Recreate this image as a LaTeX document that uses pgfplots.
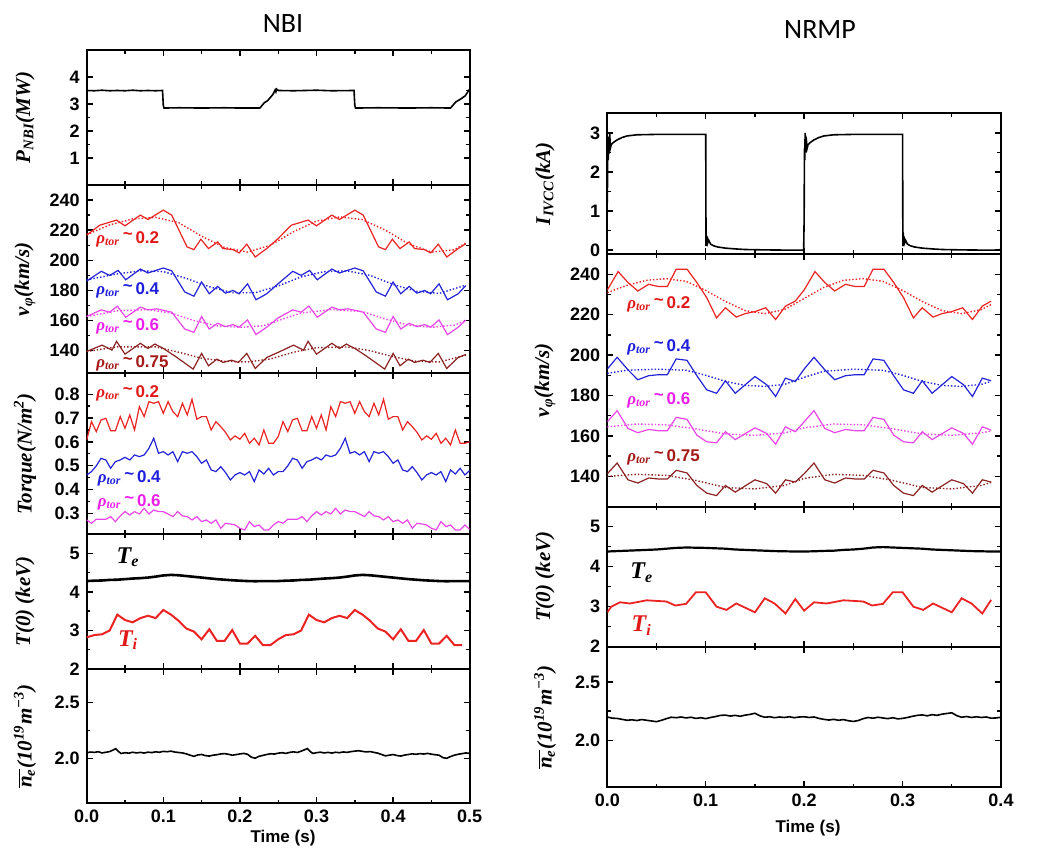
\documentclass[border=0pt]{standalone}
\usepackage{fontspec}
\setmainfont{Liberation Sans}
\newfontfamily\titlefont{Carlito}
\newfontfamily\labfont{Liberation Serif}
\usepackage{pgfplots}
\usepackage{pgfplotstable}
\pgfplotsset{compat=1.18}

\definecolor{cred}{RGB}{235,35,35}
\definecolor{cblue}{RGB}{35,35,215}
\definecolor{cmag}{RGB}{232,70,232}
\definecolor{cbrown}{RGB}{140,35,35}
\definecolor{tred}{RGB}{225,25,25}
\definecolor{tblue}{RGB}{30,30,220}
\definecolor{tmag}{RGB}{235,30,235}
\definecolor{tbrown}{RGB}{165,25,25}

\newcommand{\lab}[1]{{\labfont\bfseries\itshape #1}}
\newcommand{\rholab}[1]{\lab{ρ\textsubscript{tor}}\,\textbf{\raisebox{0.35ex}{\textasciitilde}\,#1}}
\tikzset{rholabel/.style={anchor=west, font=\fontsize{8.5}{10}\selectfont, inner sep=0pt}}

\pgfplotstableread{
t r b m
0 0.608 0.461 0.272
0.00625 0.685 0.475 0.258
0.0125 0.643 0.499 0.275
0.01875 0.692 0.531 0.275
0.025 0.699 0.524 0.275
0.03125 0.647 0.489 0.286
0.0375 0.647 0.517 0.265
0.04375 0.706 0.524 0.289
0.05 0.657 0.535 0.307
0.05625 0.713 0.524 0.293
0.0625 0.650 0.545 0.307
0.06875 0.748 0.538 0.297
0.075 0.706 0.545 0.321
0.08125 0.769 0.573 0.297
0.0875 0.762 0.615 0.314
0.09375 0.769 0.552 0.307
0.1 0.720 0.559 0.307
0.10625 0.769 0.545 0.297
0.1125 0.727 0.559 0.286
0.11875 0.706 0.517 0.307
0.125 0.762 0.559 0.289
0.13125 0.713 0.552 0.286
0.1375 0.779 0.559 0.272
0.14375 0.695 0.538 0.286
0.15 0.706 0.510 0.265
0.15625 0.706 0.524 0.272
0.1625 0.650 0.482 0.258
0.16875 0.685 0.475 0.272
0.175 0.664 0.496 0.237
0.18125 0.640 0.471 0.258
0.1875 0.608 0.440 0.255
0.19375 0.625 0.461 0.251
0.2 0.611 0.471 0.237
0.20625 0.636 0.461 0.230
0.2125 0.594 0.475 0.265
0.21875 0.615 0.433 0.244
0.225 0.587 0.482 0.251
0.23125 0.650 0.465 0.230
0.2375 0.594 0.489 0.230
0.24375 0.594 0.461 0.251
0.25 0.622 0.475 0.265
0.25625 0.685 0.475 0.258
0.2625 0.643 0.499 0.275
0.26875 0.692 0.531 0.275
0.275 0.699 0.524 0.275
0.28125 0.647 0.489 0.286
0.2875 0.647 0.517 0.265
0.29375 0.706 0.524 0.289
0.3 0.657 0.535 0.307
0.30625 0.713 0.524 0.293
0.3125 0.650 0.545 0.307
0.31875 0.748 0.538 0.297
0.325 0.706 0.545 0.321
0.33125 0.769 0.573 0.297
0.3375 0.762 0.615 0.314
0.34375 0.769 0.552 0.307
0.35 0.720 0.559 0.307
0.35625 0.769 0.545 0.297
0.3625 0.727 0.559 0.286
0.36875 0.706 0.517 0.307
0.375 0.762 0.559 0.289
0.38125 0.713 0.552 0.286
0.3875 0.779 0.559 0.272
0.39375 0.695 0.538 0.286
0.4 0.706 0.510 0.265
0.40625 0.706 0.524 0.272
0.4125 0.650 0.482 0.258
0.41875 0.685 0.475 0.272
0.425 0.664 0.496 0.237
0.43125 0.640 0.471 0.258
0.4375 0.608 0.440 0.255
0.44375 0.625 0.461 0.251
0.45 0.611 0.471 0.237
0.45625 0.636 0.461 0.230
0.4625 0.594 0.475 0.265
0.46875 0.615 0.433 0.244
0.475 0.587 0.482 0.251
0.48125 0.650 0.465 0.230
0.4875 0.594 0.489 0.230
0.49375 0.594 0.461 0.251
0.5 0.600 0.480 0.232
}\torque

\pgfplotsset{
  mypanel/.style={
    scale only axis, anchor=north west,
    axis line style={line width=0.9pt},
    tick style={black, line width=0.7pt},
    major tick length=3pt, minor tick length=1.8pt,
    tick align=inside,
    tick label style={font=\bfseries\fontsize{9}{10}\selectfont},
    /pgf/number format/assume math mode=true,
    ylabel style={font=\fontsize{10.5}{12}\selectfont, anchor=center},
    minor x tick num=1, minor y tick num=1,
  },
  myleft/.style={mypanel, width=191.5pt, xmin=0, xmax=0.5, xtick={0,0.1,0.2,0.3,0.4,0.5}, xticklabels={},
    ylabel style={at={(axis description cs:-0.161,0.5)}}},
  myright/.style={mypanel, width=196.85pt, xmin=0, xmax=0.4, xtick={0,0.1,0.2,0.3,0.4}, xticklabels={},
    ylabel style={at={(axis description cs:-0.158,0.5)}}},
  mybottom/.style={xticklabel={\pgfmathprintnumber[fixed,fixed zerofill,precision=1]{\tick}}},
  dataline/.style={line width=0.6pt},
  fitline/.style={densely dotted, line width=0.7pt},
}

\begin{document}
\begin{tikzpicture}
\path[use as bounding box] (0,0) rectangle (524.5pt,-424.5pt);

\node[font=\titlefont\fontsize{14}{16}\selectfont] at (141.5pt,-12pt) {NBI};
\node[font=\titlefont\fontsize{14}{16}\selectfont] at (410pt,-15pt) {NRMP};

% ---------------- LEFT COLUMN ----------------
\begin{axis}[myleft, at={(43.35pt,-25pt)}, height=67.5pt, ymin=0, ymax=5, ytick={1,2,3,4},
  ylabel={\lab{P\textsubscript{NBI}(MW)}}]
\addplot[black, line width=0.8pt] coordinates {
(0,3.5)(0.01,3.49)(0.02,3.51)(0.03,3.49)(0.04,3.5)(0.05,3.49)(0.06,3.51)(0.07,3.49)(0.08,3.5)(0.09,3.49)(0.099,3.5)
(0.1,2.95)(0.101,2.85)(0.12,2.86)(0.15,2.85)(0.18,2.86)(0.2,2.85)(0.226,2.85)(0.229,2.95)(0.232,3.05)(0.236,3.12)
(0.24,3.25)(0.243,3.35)(0.246,3.52)(0.247,3.45)(0.248,3.55)(0.25,3.5)(0.27,3.49)(0.3,3.51)(0.32,3.49)(0.349,3.5)
(0.35,2.95)(0.351,2.85)(0.38,2.86)(0.42,2.85)(0.45,2.86)(0.475,2.85)(0.478,2.95)(0.482,3.08)(0.488,3.18)(0.494,3.3)(0.5,3.55)};
\end{axis}

\begin{axis}[myleft, at={(43.35pt,-92.5pt)}, height=94.15pt, ymin=125, ymax=250, ytick={140,160,180,200,220,240},
  ylabel={\lab{v\textsubscript{φ}(km/s)}}]
\addplot[cred, dataline] coordinates {
(0,216.7)(0.017,223.3)(0.039,226.7)(0.05,222.9)(0.07,230)(0.08,227.1)(0.1,233.3)(0.111,230)(0.131,208.9)(0.14,207.1)
(0.149,214)(0.159,207.8)(0.171,212.2)(0.178,207.8)(0.191,207.1)(0.199,204.9)(0.209,210.7)(0.22,202.2)(0.235,207.8)
(0.25,214.5)(0.267,223.3)(0.289,226.7)(0.30,222.9)(0.32,230)(0.33,227.1)(0.35,233.3)(0.361,230)(0.381,208.9)(0.39,207.1)
(0.399,214)(0.409,207.8)(0.421,212.2)(0.428,207.8)(0.441,207.1)(0.449,204.9)(0.459,210.7)(0.47,202.2)(0.485,207.8)(0.495,211)};
\addplot[cred, fitline] coordinates {
(0,217)(0.03,223.5)(0.06,227.5)(0.09,228.5)(0.12,225)(0.15,216)(0.18,208.5)(0.21,205.5)(0.24,210)(0.27,219)
(0.30,226)(0.33,228.8)(0.36,227)(0.39,220)(0.42,211)(0.45,205.5)(0.48,207)(0.495,211.5)};
\addplot[cblue, dataline] coordinates {
(0,186.2)(0.019,192.7)(0.03,190)(0.041,193.3)(0.051,187.1)(0.07,194.2)(0.08,191.6)(0.1,194.9)(0.111,193)(0.128,179)
(0.14,176.2)(0.15,185.6)(0.16,177.8)(0.171,182.7)(0.181,178.2)(0.191,180)(0.199,177.8)(0.21,184.4)(0.221,173.8)(0.235,177.8)
(0.25,184.5)(0.269,192.7)(0.28,190)(0.291,193.3)(0.301,187.1)(0.32,194.2)(0.33,191.6)(0.35,194.9)(0.361,193)(0.378,179)
(0.39,176.2)(0.40,185.6)(0.41,177.8)(0.421,182.7)(0.431,178.2)(0.441,180)(0.449,177.8)(0.46,184.4)(0.471,173.8)(0.485,177.8)(0.495,183.3)};
\addplot[cblue, fitline] coordinates {
(0,187)(0.04,191)(0.07,193)(0.1,192.5)(0.13,188)(0.16,182.5)(0.19,178.5)(0.22,178.5)(0.25,183)(0.28,189)
(0.31,192.5)(0.34,193)(0.37,190)(0.40,184)(0.43,179.5)(0.46,178)(0.495,183.5)};
\addplot[cmag, dataline] coordinates {
(0,162.7)(0.019,167.1)(0.03,165.6)(0.04,169.6)(0.051,162.2)(0.07,168.9)(0.08,167.1)(0.091,167.8)(0.111,165.6)(0.128,154.4)
(0.14,152.2)(0.15,162.7)(0.16,154.4)(0.171,158.2)(0.181,156)(0.191,157.3)(0.199,155.6)(0.21,160.4)(0.221,150.7)(0.235,155.6)
(0.25,161.8)(0.269,167.1)(0.28,165.6)(0.29,169.6)(0.301,162.2)(0.32,168.9)(0.33,167.1)(0.341,167.8)(0.361,165.6)(0.378,154.4)
(0.39,152.2)(0.40,162.7)(0.41,154.4)(0.421,158.2)(0.431,156)(0.441,157.3)(0.449,155.6)(0.46,160.4)(0.471,150.7)(0.485,155.6)(0.495,160.4)};
\addplot[cmag, fitline] coordinates {
(0,162.7)(0.04,166.5)(0.08,167.3)(0.11,165)(0.14,160)(0.17,156.5)(0.2,155.5)(0.23,156.5)(0.25,160)(0.28,165)
(0.32,167.3)(0.36,166)(0.39,161)(0.42,157)(0.45,155.5)(0.48,157)(0.495,160)};
\addplot[cbrown, dataline] coordinates {
(0,139.5)(0.02,143.7)(0.033,140.4)(0.039,146.2)(0.05,137.7)(0.07,144.9)(0.08,141.5)(0.089,144.4)(0.1,141.5)(0.115,136.5)
(0.139,127.8)(0.15,138.2)(0.159,130)(0.17,134.4)(0.178,132.2)(0.189,133.7)(0.198,132.2)(0.209,138.2)(0.22,128.2)(0.235,135.5)
(0.25,138.9)(0.27,143.7)(0.283,140.4)(0.289,146.2)(0.30,137.7)(0.32,144.9)(0.33,141.5)(0.339,144.4)(0.35,141.5)(0.365,136.5)
(0.389,127.8)(0.40,138.2)(0.409,130)(0.42,134.4)(0.428,132.2)(0.439,133.7)(0.448,132.2)(0.459,138.2)(0.47,128.2)(0.485,135.5)(0.495,137.5)};
\addplot[cbrown, fitline] coordinates {
(0,139.5)(0.04,142.5)(0.09,142.5)(0.12,139)(0.15,135)(0.18,133)(0.21,132.5)(0.24,134.5)(0.27,139)(0.3,142)
(0.34,142.5)(0.37,140)(0.4,136)(0.43,133)(0.46,132.5)(0.495,137)};
\node[rholabel, text=tred] at (axis cs:0.012,214.2) {\rholab{0.2}};
\node[rholabel, text=tblue] at (axis cs:0.012,180.2) {\rholab{0.4}};
\node[rholabel, text=tmag] at (axis cs:0.012,156.2) {\rholab{0.6}};
\node[rholabel, text=tbrown] at (axis cs:0.012,131.5) {\rholab{0.75}};
\end{axis}

\begin{axis}[myleft, at={(43.35pt,-186.65pt)}, height=80.35pt, ymin=0.213, ymax=0.888, ytick={0.3,0.4,0.5,0.6,0.7,0.8},
  ylabel={\lab{Torque(N/m\textsuperscript{2})}}]
\addplot[cred, dataline] table[x=t, y=r] {\torque};
\addplot[cblue, dataline] table[x=t, y=b] {\torque};
\addplot[cmag, dataline] table[x=t, y=m] {\torque};
\node[rholabel, text=tred] at (axis cs:0.012,0.803) {\rholab{0.2}};
\node[rholabel, text=tblue] at (axis cs:0.014,0.446) {\rholab{0.4}};
\node[rholabel, text=tmag] at (axis cs:0.014,0.345) {\rholab{0.6}};
\end{axis}

\begin{axis}[myleft, at={(43.35pt,-267pt)}, height=67.5pt, ymin=2, ymax=5.5, ytick={2,3,4,5},
  ylabel={\lab{T(0) (keV)}}]
\addplot[black, line width=1.3pt] coordinates {
(0,4.28)(0.01,4.29)(0.02,4.295)(0.03,4.31)(0.04,4.315)(0.05,4.33)(0.06,4.345)(0.07,4.355)(0.08,4.37)(0.09,4.395)
(0.1,4.425)(0.11,4.44)(0.12,4.43)(0.13,4.41)(0.14,4.39)(0.15,4.37)(0.16,4.35)(0.17,4.33)(0.18,4.315)(0.19,4.3)
(0.2,4.29)(0.21,4.28)(0.22,4.275)(0.23,4.28)(0.24,4.28)(0.25,4.28)(0.26,4.29)(0.27,4.295)(0.28,4.31)(0.29,4.315)
(0.3,4.33)(0.31,4.345)(0.32,4.355)(0.33,4.37)(0.34,4.395)(0.35,4.425)(0.36,4.44)(0.37,4.43)(0.38,4.41)(0.39,4.39)
(0.4,4.37)(0.41,4.35)(0.42,4.33)(0.43,4.315)(0.44,4.3)(0.45,4.29)(0.46,4.28)(0.47,4.275)(0.48,4.28)(0.49,4.28)(0.5,4.28)};
\addplot[cred, line width=1pt] coordinates {
(0,2.82)(0.01,2.88)(0.02,2.90)(0.03,3.0)(0.04,3.41)(0.05,3.27)(0.06,3.21)(0.07,3.32)(0.08,3.38)(0.09,3.32)
(0.10,3.53)(0.11,3.41)(0.12,3.25)(0.13,3.05)(0.14,2.97)(0.15,2.77)(0.16,3.03)(0.17,2.73)(0.18,2.73)(0.19,3.01)
(0.20,2.66)(0.21,2.66)(0.22,2.86)(0.23,2.62)(0.24,2.62)(0.25,2.77)(0.26,2.88)(0.27,2.90)(0.28,3.0)(0.29,3.41)
(0.30,3.27)(0.31,3.21)(0.32,3.32)(0.33,3.38)(0.34,3.32)(0.35,3.53)(0.36,3.41)(0.37,3.25)(0.38,3.05)(0.39,2.97)
(0.40,2.77)(0.41,3.03)(0.42,2.73)(0.43,2.73)(0.44,3.01)(0.45,2.66)(0.46,2.66)(0.47,2.86)(0.48,2.62)(0.49,2.62)};
\node[text=black, font=\fontsize{12}{13}\selectfont] at (axis cs:0.054,4.9) {\lab{T\textsubscript{e}}};
\node[text=tred, font=\fontsize{12}{13}\selectfont] at (axis cs:0.054,2.75) {\lab{T\textsubscript{i}}};
\end{axis}

\begin{axis}[myleft, mybottom, at={(43.35pt,-334.5pt)}, height=67.15pt, ymin=1.6, ymax=2.8, ytick={2.0,2.5},
  yticklabel={\pgfmathprintnumber[fixed,fixed zerofill,precision=1]{\tick}},
  ylabel={$\overline{\hbox{\lab{n\textsubscript{e}}}}$\lab{(10\textsuperscript{19}m\textsuperscript{−3})}}]
\addplot[black, line width=0.8pt] coordinates {
(0.000,2.052)(0.005,2.058)(0.010,2.055)(0.015,2.061)(0.020,2.050)(0.025,2.056)(0.030,2.062)(0.035,2.078)(0.038,2.088)(0.042,2.060)
(0.045,2.045)(0.050,2.052)(0.055,2.048)(0.060,2.056)(0.065,2.050)(0.070,2.055)(0.075,2.049)(0.080,2.057)(0.085,2.053)(0.090,2.060)
(0.095,2.056)(0.100,2.064)(0.105,2.061)(0.110,2.066)(0.115,2.058)(0.120,2.054)(0.125,2.050)(0.130,2.042)(0.135,2.030)(0.140,2.020)
(0.145,2.032)(0.150,2.036)(0.155,2.026)(0.160,2.022)(0.165,2.030)(0.170,2.034)(0.175,2.041)(0.180,2.044)(0.185,2.038)(0.190,2.030)
(0.195,2.035)(0.200,2.041)(0.205,2.046)(0.210,2.038)(0.215,2.012)(0.220,2.003)(0.225,2.020)(0.230,2.028)(0.235,2.036)(0.240,2.043)
(0.245,2.040)(0.250,2.048)(0.255,2.052)(0.260,2.046)(0.265,2.055)(0.270,2.060)(0.275,2.054)(0.280,2.066)(0.285,2.080)(0.288,2.089)
(0.292,2.062)(0.295,2.046)(0.300,2.052)(0.305,2.057)(0.310,2.050)(0.315,2.055)(0.320,2.049)(0.325,2.056)(0.330,2.052)(0.335,2.059)
(0.340,2.055)(0.345,2.062)(0.350,2.066)(0.355,2.070)(0.360,2.064)(0.365,2.059)(0.370,2.062)(0.375,2.055)(0.380,2.048)(0.385,2.036)
(0.390,2.024)(0.395,2.030)(0.400,2.036)(0.405,2.027)(0.410,2.022)(0.415,2.031)(0.420,2.036)(0.425,2.042)(0.430,2.038)(0.435,2.044)
(0.440,2.040)(0.445,2.046)(0.450,2.039)(0.455,2.034)(0.460,2.030)(0.465,2.008)(0.470,2.002)(0.475,2.018)(0.480,2.030)(0.485,2.038)
(0.490,2.044)(0.495,2.050)(0.500,2.046)};
\end{axis}
\node[font=\bfseries\fontsize{8.5}{10}\selectfont] at (141.5pt,-419pt) {Time (s)};

% ---------------- RIGHT COLUMN ----------------
\begin{axis}[myright, at={(303.65pt,-56.65pt)}, height=70.35pt, ymin=-0.1, ymax=3.5, ytick={0,1,2,3},
  ylabel={\lab{I\textsubscript{IVCC}(kA)}}]
\addplot[black, line width=0.8pt] coordinates {
(0,1.2)(0.0005,2.6)(0.001,2.3)(0.0015,2.9)(0.002,2.5)(0.0025,3.0)(0.003,2.6)(0.004,2.7)(0.006,2.75)(0.01,2.82)
(0.015,2.88)(0.02,2.92)(0.03,2.95)(0.05,2.96)(0.0995,2.96)(0.1,2.96)(0.1003,0.1)(0.1006,0.38)(0.101,0.2)(0.1015,0.35)
(0.102,0.18)(0.103,0.25)(0.105,0.15)(0.108,0.11)(0.112,0.08)(0.12,0.05)(0.13,0.03)(0.14,0.015)(0.16,0.005)(0.18,0.0)
(0.1995,0.0)(0.2,0.8)(0.2003,2.6)(0.2006,2.3)(0.201,3.0)(0.2015,2.5)(0.202,2.9)(0.203,2.6)(0.204,2.7)(0.206,2.75)
(0.21,2.82)(0.215,2.88)(0.22,2.92)(0.23,2.95)(0.25,2.96)(0.2995,2.96)(0.3,2.96)(0.3003,0.1)(0.3006,0.45)(0.301,0.2)
(0.3015,0.35)(0.302,0.18)(0.303,0.25)(0.305,0.15)(0.308,0.11)(0.312,0.08)(0.32,0.05)(0.33,0.03)(0.34,0.015)(0.36,0.005)
(0.38,0.0)(0.399,0.0)(0.4,0.05)};
\end{axis}

\begin{axis}[myright, at={(303.65pt,-127pt)}, height=126.35pt, ymin=125, ymax=250, ytick={140,160,180,200,220,240},
  ylabel={\lab{v\textsubscript{φ}(km/s)}}]
\addplot[cred, dataline] coordinates {
(0,232.2)(0.011,241.3)(0.021,235.9)(0.031,231.7)(0.042,235)(0.052,233.9)(0.061,233.9)(0.07,242.5)(0.081,242.5)(0.091,235.9)
(0.101,228.4)(0.111,218.4)(0.12,223.4)(0.131,218.8)(0.14,220.5)(0.15,221.5)(0.161,223.4)(0.171,217.6)(0.181,224.2)(0.191,226.7)
(0.2,232.2)(0.211,241.3)(0.221,235.9)(0.231,231.7)(0.242,235)(0.252,233.9)(0.261,233.9)(0.27,242.5)(0.281,242.5)(0.291,235.9)
(0.301,228.4)(0.311,218.4)(0.32,223.4)(0.331,218.8)(0.34,220.5)(0.35,221.5)(0.361,223.4)(0.371,217.6)(0.381,224.2)(0.39,226.7)};
\addplot[cred, fitline] coordinates {
(0,230.9)(0.02,234.5)(0.04,237)(0.06,237.8)(0.08,236.5)(0.1,232)(0.12,226.5)(0.14,222)(0.16,220.5)(0.18,222.5)
(0.2,228)(0.22,233.5)(0.24,237)(0.26,237.8)(0.28,236.5)(0.3,232)(0.32,226.5)(0.34,222)(0.36,220.5)(0.38,222.5)(0.39,225)};
\addplot[cblue, dataline] coordinates {
(0,193.1)(0.01,198.9)(0.021,192.7)(0.031,187.8)(0.042,189.8)(0.052,190.3)(0.061,190.3)(0.07,198.1)(0.081,197.4)(0.091,189.8)
(0.101,182.8)(0.111,181.1)(0.12,187.3)(0.13,181.1)(0.15,189.4)(0.162,185.3)(0.171,179.5)(0.181,188.6)(0.191,186.9)
(0.2,193.1)(0.21,198.9)(0.221,192.7)(0.231,187.8)(0.242,189.8)(0.252,190.3)(0.261,190.3)(0.27,198.1)(0.281,197.4)(0.291,189.8)
(0.301,182.8)(0.311,181.1)(0.32,187.3)(0.33,181.1)(0.35,189.4)(0.362,185.3)(0.371,179.5)(0.381,188.6)(0.39,187.3)};
\addplot[cblue, fitline] coordinates {
(0,191)(0.02,192.5)(0.05,193)(0.08,192.5)(0.1,190)(0.12,187)(0.14,185)(0.16,184.5)(0.18,185.5)(0.2,189)
(0.22,192)(0.25,193)(0.28,192.5)(0.3,190)(0.32,187)(0.34,185)(0.36,184.5)(0.38,185.5)(0.39,187)};
\addplot[cmag, dataline] coordinates {
(0,167.0)(0.01,172.5)(0.021,163.7)(0.031,161.6)(0.042,163.2)(0.052,162.6)(0.061,162.6)(0.07,169.2)(0.081,168.2)(0.091,160.4)
(0.101,157.1)(0.111,156.6)(0.12,162.1)(0.13,158.2)(0.15,164.0)(0.162,161.2)(0.171,155.9)(0.181,164.5)(0.191,162.1)
(0.2,167.0)(0.21,172.5)(0.221,163.7)(0.231,161.6)(0.242,163.2)(0.252,162.6)(0.261,162.6)(0.27,169.2)(0.281,168.2)(0.291,160.4)
(0.301,157.1)(0.311,156.6)(0.32,162.1)(0.33,158.2)(0.35,164.0)(0.362,161.2)(0.371,155.9)(0.381,164.5)(0.39,162.9)};
\addplot[cmag, fitline] coordinates {
(0,164.5)(0.03,165.9)(0.06,165.5)(0.09,163.5)(0.12,161)(0.15,160.3)(0.18,161.5)(0.2,164)(0.23,165.9)(0.26,165.5)
(0.29,163.5)(0.32,161)(0.35,160.3)(0.38,161.5)(0.39,162.5)};
\addplot[cbrown, dataline] coordinates {
(0,141.3)(0.01,146.6)(0.021,138.3)(0.031,136.7)(0.042,139.2)(0.052,138.7)(0.061,138.7)(0.07,143.0)(0.081,141.7)(0.091,135.5)
(0.101,131.7)(0.111,130.5)(0.12,135.5)(0.13,132.2)(0.15,138.3)(0.162,136.4)(0.171,131.7)(0.181,138.3)(0.191,137.2)
(0.2,141.3)(0.21,146.6)(0.221,138.3)(0.231,136.7)(0.242,139.2)(0.252,138.7)(0.261,138.7)(0.27,143.0)(0.281,141.7)(0.291,135.5)
(0.301,131.7)(0.311,130.5)(0.32,135.5)(0.33,132.2)(0.35,138.3)(0.362,136.4)(0.371,131.7)(0.381,138.3)(0.39,137.2)};
\addplot[cbrown, fitline] coordinates {
(0,140)(0.03,141)(0.06,140.5)(0.09,138)(0.12,134.5)(0.15,133.8)(0.18,135.5)(0.2,139)(0.23,141)(0.26,140.5)
(0.29,138)(0.32,134.5)(0.35,133.8)(0.38,135.5)(0.39,137)};
\node[rholabel, text=tred] at (axis cs:0.02,225) {\rholab{0.2}};
\node[rholabel, text=tblue] at (axis cs:0.02,203.7) {\rholab{0.4}};
\node[rholabel, text=tmag] at (axis cs:0.02,177.8) {\rholab{0.6}};
\node[rholabel, text=tbrown] at (axis cs:0.02,149.5) {\rholab{0.75}};
\end{axis}

\begin{axis}[myright, at={(303.65pt,-253.35pt)}, height=70pt, ymin=2, ymax=5.5, ytick={2,3,4,5},
  ylabel={\lab{T(0) (keV)}}]
\addplot[black, line width=1.1pt] coordinates {
(0,4.38)(0.01,4.39)(0.02,4.40)(0.03,4.41)(0.04,4.42)(0.05,4.43)(0.06,4.45)(0.07,4.47)(0.08,4.48)(0.09,4.475)
(0.1,4.47)(0.11,4.46)(0.12,4.45)(0.13,4.43)(0.14,4.42)(0.15,4.41)(0.16,4.40)(0.17,4.39)(0.18,4.385)(0.19,4.38)
(0.2,4.38)(0.21,4.385)(0.22,4.395)(0.23,4.40)(0.24,4.42)(0.25,4.43)(0.26,4.45)(0.27,4.48)(0.28,4.49)(0.29,4.48)
(0.3,4.47)(0.31,4.46)(0.32,4.45)(0.33,4.43)(0.34,4.42)(0.35,4.41)(0.36,4.40)(0.37,4.39)(0.38,4.385)(0.39,4.38)(0.4,4.38)};
\addplot[cred, line width=0.9pt] coordinates {
(0,2.86)(0.004,3.0)(0.013,3.11)(0.023,3.08)(0.04,3.16)(0.06,3.13)(0.069,3.03)(0.08,3.07)(0.09,3.36)(0.1,3.36)
(0.111,3.0)(0.121,2.92)(0.131,3.08)(0.15,2.86)(0.16,3.21)(0.17,3.08)(0.181,2.83)(0.191,3.19)(0.2,2.9)(0.21,3.11)
(0.223,3.08)(0.24,3.16)(0.26,3.13)(0.269,3.03)(0.28,3.07)(0.29,3.36)(0.3,3.36)(0.311,3.0)(0.321,2.92)(0.331,3.08)
(0.35,2.86)(0.36,3.21)(0.37,3.08)(0.381,2.83)(0.39,3.17)};
\node[text=black, font=\fontsize{12}{13}\selectfont] at (axis cs:0.035,3.85) {\lab{T\textsubscript{e}}};
\node[text=tred, font=\fontsize{12}{13}\selectfont] at (axis cs:0.035,2.53) {\lab{T\textsubscript{i}}};
\end{axis}

\begin{axis}[myright, mybottom, at={(303.65pt,-323.35pt)}, height=70.3pt, ymin=1.6, ymax=2.8, ytick={2.0,2.5},
  yticklabel={\pgfmathprintnumber[fixed,fixed zerofill,precision=1]{\tick}},
  ylabel={$\overline{\hbox{\lab{n\textsubscript{e}}}}$\lab{(10\textsuperscript{19}m\textsuperscript{−3})}}]
\addplot[black, line width=0.8pt] coordinates {
(0.000,2.200)(0.005,2.190)(0.010,2.188)(0.015,2.180)(0.020,2.172)(0.025,2.176)(0.030,2.170)(0.035,2.178)(0.040,2.172)(0.045,2.166)
(0.050,2.160)(0.055,2.172)(0.060,2.186)(0.065,2.198)(0.070,2.194)(0.075,2.200)(0.080,2.192)(0.085,2.198)(0.090,2.188)(0.095,2.194)
(0.100,2.186)(0.105,2.196)(0.110,2.204)(0.115,2.214)(0.120,2.216)(0.125,2.208)(0.130,2.214)(0.135,2.206)(0.140,2.216)(0.145,2.222)
(0.150,2.232)(0.155,2.210)(0.160,2.198)(0.165,2.202)(0.170,2.194)(0.175,2.200)(0.180,2.196)(0.185,2.202)(0.190,2.194)(0.195,2.200)
(0.200,2.202)(0.205,2.196)(0.210,2.200)(0.215,2.188)(0.220,2.180)(0.225,2.174)(0.230,2.180)(0.235,2.172)(0.240,2.178)(0.245,2.168)
(0.250,2.162)(0.255,2.170)(0.260,2.186)(0.265,2.196)(0.270,2.190)(0.275,2.198)(0.280,2.192)(0.285,2.186)(0.290,2.194)(0.295,2.184)
(0.300,2.188)(0.305,2.196)(0.310,2.206)(0.315,2.214)(0.320,2.218)(0.325,2.210)(0.330,2.220)(0.335,2.214)(0.340,2.224)(0.345,2.230)
(0.350,2.236)(0.355,2.212)(0.360,2.198)(0.365,2.204)(0.370,2.196)(0.375,2.202)(0.380,2.196)(0.385,2.200)(0.390,2.190)(0.395,2.192)
(0.400,2.198)};
\end{axis}
\node[font=\bfseries\fontsize{8.5}{10}\selectfont] at (404pt,-414pt) {Time (s)};

\end{tikzpicture}
\end{document}
